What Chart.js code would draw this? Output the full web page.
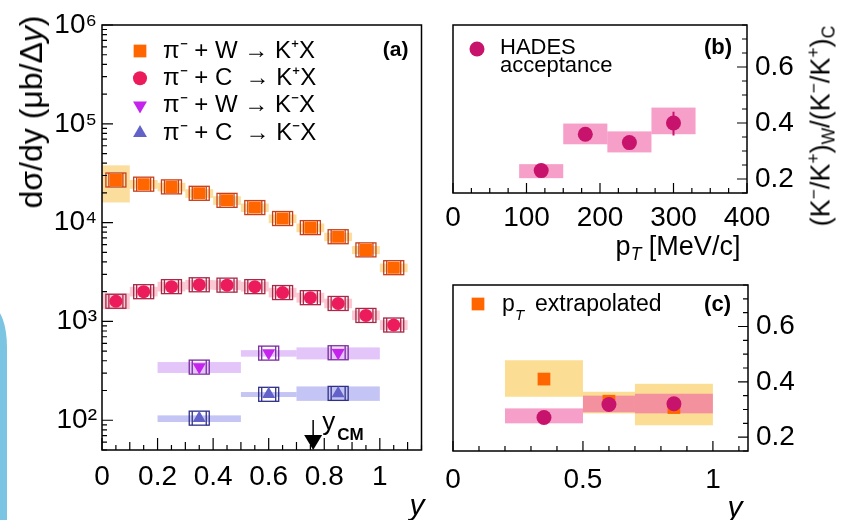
<!DOCTYPE html>
<html>
<head>
<meta charset="utf-8">
<script src="https://cdn.jsdelivr.net/npm/chart.js@4.4.1/dist/chart.umd.min.js"></script>
<style>
  body { margin: 0; background: #fff; }
  #wrap { position: relative; width: 845px; height: 520px; overflow: hidden; font-family: "Liberation Sans", Arial, sans-serif; }
  canvas { position: absolute; }
  #stripe { position: absolute; left: -8px; top: 307px; width: 15px; height: 213px; background: #7cc5e2; border-top-right-radius: 15px 40px; }
  .title { position: absolute; white-space: nowrap; color: #000; line-height: 1; transform: translate(-50%, -50%); }
  .rot { transform: translate(-50%, -50%) rotate(-90deg); }
  .title sub, .title sup { font-size: 0.65em; vertical-align: 0; position: relative; }
  .title sup { top: -0.55em; }
  .title sub { top: 0.3em; }
</style>
</head>
<body>
<div id="wrap">
  <div id="stripe"></div>
  <canvas id="chart-a" width="430" height="520" style="left:0;top:0;width:430px;height:520px"></canvas>
  <canvas id="chart-b" width="415" height="260" style="left:430px;top:0;width:415px;height:260px"></canvas>
  <canvas id="chart-c" width="415" height="260" style="left:430px;top:260px;width:415px;height:260px"></canvas>

  <div class="title rot" style="left:31px;top:112px;font-size:32px">dσ/dy (μb/Δ<i>y</i>)</div>
  <div class="title" style="left:417px;top:505px;font-size:30px"><i>y</i></div>
  <div class="title" style="left:678px;top:246px;font-size:27px">p<sub><i>T</i></sub> [MeV/c]</div>
  <div class="title rot" style="left:821px;top:126px;font-size:27px">(K<sup>−</sup>/K<sup>+</sup>)<sub>W</sub>/(K<sup>−</sup>/K<sup>+</sup>)<sub>C</sub></div>
  <div class="title" style="left:735px;top:507px;font-size:30px"><i>y</i></div>
</div>

<script>
// ---- panel (a): dσ/dy vs rapidity ----
const yBins = [0.05, 0.15, 0.25, 0.35, 0.45, 0.55, 0.65, 0.75, 0.85, 0.95, 1.05];
const binHalf = 0.05;
const kPlusW = [27000, 24500, 23000, 19800, 16800, 14200, 11000, 8900, 7200, 5300, 3500];
const kPlusWLow = [16000, 22000, 20700, 17800, 15100, 12800, 9900, 8000, 6500, 4800, 3150];
const kPlusWHigh = [38000, 27000, 25300, 21800, 18500, 15600, 12100, 9800, 7900, 5800, 3850];
const kPlusC = [1600, 2000, 2250, 2350, 2330, 2250, 1960, 1740, 1520, 1150, 920];
const kPlusCLow = [1330, 1790, 2010, 2100, 2080, 2010, 1750, 1550, 1360, 1030, 820];
const kPlusCHigh = [1930, 2240, 2520, 2630, 2610, 2520, 2190, 1950, 1700, 1290, 1030];

const kMinusBins = [0.35, 0.6, 0.85];
const kMinusBinLow = [0.2, 0.5, 0.7];
const kMinusBinHigh = [0.5, 0.7, 1.0];
const kMinusW = [345, 478, 482];
const kMinusWLow = [301, 440, 413];
const kMinusWHigh = [388, 512, 546];
const kMinusC = [105, 183, 187];
const kMinusCLow = [96, 172, 157];
const kMinusCHigh = [112, 193, 220];

const yCM = 0.76;
const rapidityTicks = [0, 0.2, 0.4, 0.6, 0.8, 1];
const rapidityTickLabels = ["0", "0.2", "0.4", "0.6", "0.8", "1"];
const sigmaTicks = [100, 1000, 10000, 100000, 1000000];
const sigmaTickLabels = ["10²", "10³", "10⁴", "10⁵", "10⁶"];

// ---- panel (b): ratio vs pT ----
const ptBins = [120, 180, 240, 300];
const ptBinLow = [90, 150, 210, 270];
const ptBinHigh = [150, 210, 270, 330];
const ratioPt = [0.23, 0.36, 0.33, 0.40];
const ratioPtSysLow = [0.203, 0.324, 0.295, 0.36];
const ratioPtSysHigh = [0.253, 0.398, 0.37, 0.455];
const ratioPtStatLow = [0.222, 0.352, 0.322, 0.355];
const ratioPtStatHigh = [0.238, 0.368, 0.338, 0.44];
const ptTicks = [0, 100, 200, 300, 400];
const ratioTicks = [0.2, 0.4, 0.6];
const ratioTickLabels = ["0.2", "0.4", "0.6"];

// ---- panel (c): ratio vs rapidity ----
const cBins = [0.35, 0.6, 0.85];
const cBinLow = [0.2, 0.5, 0.7];
const cBinHigh = [0.5, 0.7, 1.0];
const ratioHades = [0.271, 0.318, 0.321];
const ratioHadesLow = [0.25, 0.29, 0.286];
const ratioHadesHigh = [0.304, 0.35, 0.357];
const ratioExtrap = [0.41, 0.33, 0.307];
const ratioExtrapLow = [0.346, 0.286, 0.243];
const ratioExtrapHigh = [0.478, 0.364, 0.393];
const cTicks = [0, 0.5, 1];
const cTickLabels = ["0", "0.5", "1"];

const FONT = '"Liberation Sans", Arial, sans-serif';
const ORANGE = "#ff6600";
const RED = "#ec1c5c";
const VIOLET = "#c424ec";
const BLUE = "#6262c8";
const MAGENTA = "#c8136c";

const pts = (xs, ys) => xs.map((x, i) => ({ x: x, y: ys[i] }));

function drawMarker(ctx, style, x, y, r, color) {
  ctx.fillStyle = color;
  ctx.beginPath();
  if (style === "rect") {
    const s = r * Math.SQRT1_2;
    ctx.rect(x - s, y - s, 2 * s, 2 * s);
  } else if (style === "circle") {
    ctx.arc(x, y, r, 0, Math.PI * 2);
  } else if (style === "up") {
    ctx.moveTo(x, y - r); ctx.lineTo(x + 0.866 * r, y + 0.5 * r); ctx.lineTo(x - 0.866 * r, y + 0.5 * r);
  } else {
    ctx.moveTo(x, y + r); ctx.lineTo(x + 0.866 * r, y - 0.5 * r); ctx.lineTo(x - 0.866 * r, y - 0.5 * r);
  }
  ctx.closePath();
  ctx.fill();
}

//systematic bands, open boxes and error bars drawn under the markers
function bandPlugin(spec) {
  return {
    id: "bands",
    beforeDatasetsDraw(chart) {
      const { ctx, chartArea: a, scales: { x, y } } = chart;
      ctx.save();
      ctx.beginPath();
      ctx.rect(a.left, a.top, a.right - a.left, a.bottom - a.top);
      ctx.clip();
      spec.bands.forEach(b => {
        ctx.fillStyle = b.color;
        b.lo.forEach((lo, i) => {
          const x0 = x.getPixelForValue(b.x0[i]);
          const x1 = x.getPixelForValue(b.x1[i]);
          const yl = y.getPixelForValue(lo);
          const yh = y.getPixelForValue(b.hi[i]);
          ctx.fillRect(x0, yh, x1 - x0, yl - yh);
        });
      });
      (spec.boxes || []).forEach(b => {
        ctx.strokeStyle = b.color;
        ctx.lineWidth = 1.3;
        b.xs.forEach((xv, i) => {
          const px = x.getPixelForValue(xv);
          const py = y.getPixelForValue(b.ys[i]);
          ctx.strokeRect(px - 10, py - 7, 20, 14);
          ctx.beginPath();
          ctx.moveTo(px - 7, py - 7); ctx.lineTo(px - 7, py + 7);
          ctx.moveTo(px + 7, py - 7); ctx.lineTo(px + 7, py + 7);
          ctx.stroke();
        });
      });
      (spec.errs || []).forEach(e => {
        ctx.strokeStyle = e.color;
        ctx.lineWidth = 2;
        ctx.beginPath();
        e.xs.forEach((xv, i) => {
          const px = x.getPixelForValue(xv);
          ctx.moveTo(px, y.getPixelForValue(e.lo[i]));
          ctx.lineTo(px, y.getPixelForValue(e.hi[i]));
        });
        ctx.stroke();
      });
      ctx.restore();
    }
  };
}

//frame + inward ticks
function framePlugin(xTicks, yTicks, ySide) {
  return {
    id: "frame",
    afterDraw(chart) {
      const { ctx, chartArea: a, scales } = chart;
      ctx.save();
      ctx.strokeStyle = "#000";
      ctx.lineWidth = 1.5;
      ctx.strokeRect(a.left, a.top, a.right - a.left, a.bottom - a.top);
      ctx.lineWidth = 1.2;
      ctx.beginPath();
      xTicks.forEach(([v, len]) => {
        const px = scales.x.getPixelForValue(v);
        ctx.moveTo(px, a.bottom); ctx.lineTo(px, a.bottom - len);
      });
      yTicks.forEach(([v, len]) => {
        const py = scales.y.getPixelForValue(v);
        if (ySide === "right") { ctx.moveTo(a.right, py); ctx.lineTo(a.right - len, py); }
        else { ctx.moveTo(a.left, py); ctx.lineTo(a.left + len, py); }
      });
      ctx.stroke();
      ctx.restore();
    }
  };
}

function notesPlugin(draw) {
  return { id: "notes", afterDraw(chart) { chart.ctx.save(); draw(chart.ctx, chart); chart.ctx.restore(); } };
}

function ratioTickMarks() {
  const t = [];
  for (let k = 3; k <= 15; k++) t.push([k * 0.05, k % 4 === 0 ? 10 : 5]);
  return t;
}

const tickFont = { family: FONT, size: 28 };

// ================= panel (a) =================
const aXTicks = [];
for (let k = 0; k <= 23; k++) aXTicks.push([k * 0.05, k % 4 === 0 ? 12 : (k % 2 === 0 ? 8 : 5)]);
const aYTicks = [];
for (let d = 1; d <= 5; d++) {
  for (let m = 1; m <= 9; m++) {
    const v = m * Math.pow(10, d);
    if (v >= 50) aYTicks.push([v, m === 1 ? 11 : 5]);
  }
}
aYTicks.push([1000000, 11]);

new Chart(document.getElementById("chart-a"), {
  type: "scatter",
  data: {
    datasets: [
      { data: pts(yBins, kPlusW), pointStyle: "rect", pointRadius: 8.5, pointBackgroundColor: ORANGE, pointBorderWidth: 0 },
      { data: pts(yBins, kPlusC), pointStyle: "circle", pointRadius: 6.5, pointBackgroundColor: RED, pointBorderWidth: 0 },
      { data: pts(kMinusBins, kMinusW), pointStyle: "triangle", pointRotation: 180, pointRadius: 7.5, pointBackgroundColor: VIOLET, pointBorderWidth: 0 },
      { data: pts(kMinusBins, kMinusC), pointStyle: "triangle", pointRadius: 7.5, pointBackgroundColor: BLUE, pointBorderWidth: 0 }
    ]
  },
  options: {
    responsive: false,
    animation: false,
    layout: { padding: { left: 0, top: 25, right: 4, bottom: 0 } },
    plugins: { legend: { display: false }, tooltip: { enabled: false } },
    scales: {
      x: {
        type: "linear", min: 0, max: 1.15,
        afterBuildTicks: s => { s.ticks = rapidityTicks.map(v => ({ value: v })); },
        afterFit: s => { s.height = 70; },
        grid: { display: false, drawTicks: false },
        border: { display: false },
        ticks: { font: tickFont, color: "#000", padding: 10, autoSkip: false, maxRotation: 0, callback: (v, i) => rapidityTickLabels[i] }
      },
      y: {
        type: "logarithmic", min: 50, max: 1000000,
        afterBuildTicks: s => { s.ticks = sigmaTicks.map(v => ({ value: v })); },
        afterFit: s => { s.width = 102; },
        grid: { display: false, drawTicks: false },
        border: { display: false },
        ticks: { font: tickFont, color: "#000", padding: 5, autoSkip: false, callback: (v, i) => sigmaTickLabels[i] }
      }
    }
  },
  plugins: [
    bandPlugin({
      bands: [
        { color: "rgba(247,190,60,0.5)", x0: yBins.map(v => v - binHalf), x1: yBins.map(v => v + binHalf), lo: kPlusWLow, hi: kPlusWHigh },
        { color: "rgba(240,100,130,0.35)", x0: yBins.map(v => v - binHalf), x1: yBins.map(v => v + binHalf), lo: kPlusCLow, hi: kPlusCHigh },
        { color: "rgba(200,140,245,0.5)", x0: kMinusBinLow, x1: kMinusBinHigh, lo: kMinusWLow, hi: kMinusWHigh },
        { color: "rgba(140,140,235,0.5)", x0: kMinusBinLow, x1: kMinusBinHigh, lo: kMinusCLow, hi: kMinusCHigh }
      ],
      boxes: [
        { color: "#c8401a", xs: yBins, ys: kPlusW },
        { color: "#a82848", xs: yBins, ys: kPlusC },
        { color: "#7a2aa0", xs: kMinusBins, ys: kMinusW },
        { color: "#303088", xs: kMinusBins, ys: kMinusC }
      ]
    }),
    framePlugin(aXTicks, aYTicks, "left"),
    notesPlugin((ctx, chart) => {
      const a = chart.chartArea;
      const legend = [
        ["rect", ORANGE, 9, "π⁻ + W → K⁺X"],
        ["circle", RED, 7, "π⁻ + C  → K⁺X"],
        ["down", VIOLET, 8, "π⁻ + W → K⁻X"],
        ["up", BLUE, 8, "π⁻ + C  → K⁻X"]
      ];
      ctx.font = "24px " + FONT;
      ctx.textBaseline = "middle";
      ctx.textAlign = "left";
      legend.forEach((row, i) => {
        const yy = 51 + i * 27.3;
        drawMarker(ctx, row[0], 140, yy, row[2], row[1]);
        ctx.fillStyle = "#000";
        ctx.fillText(row[3], 163, yy);
      });
      ctx.font = "bold 21px " + FONT;
      ctx.textAlign = "right";
      ctx.fillText("(a)", a.right - 13, 50);

      // y_CM arrow
      const px = chart.scales.x.getPixelForValue(yCM);
      ctx.strokeStyle = "#000";
      ctx.lineWidth = 1.5;
      ctx.beginPath();
      ctx.moveTo(px, a.bottom - 30); ctx.lineTo(px, a.bottom - 12);
      ctx.stroke();
      ctx.fillStyle = "#000";
      ctx.beginPath();
      ctx.moveTo(px - 9, a.bottom - 15); ctx.lineTo(px + 9, a.bottom - 15); ctx.lineTo(px, a.bottom);
      ctx.closePath();
      ctx.fill();
      ctx.textAlign = "left";
      ctx.font = "26px " + FONT;
      ctx.fillText("y", px + 9, a.bottom - 27);
      ctx.font = "bold 17px " + FONT;
      ctx.fillText("CM", px + 24, a.bottom - 15);
    })
  ]
});

// ================= panel (b) =================
const bXTicks = [];
for (let k = 0; k <= 16; k++) bXTicks.push([k * 25, k % 4 === 0 ? 10 : 5]);

new Chart(document.getElementById("chart-b"), {
  type: "scatter",
  data: {
    datasets: [
      { data: pts(ptBins, ratioPt), pointStyle: "circle", pointRadius: 7.5, pointBackgroundColor: MAGENTA, pointBorderWidth: 0 }
    ]
  },
  options: {
    responsive: false,
    animation: false,
    layout: { padding: { left: 23, top: 25, right: 0, bottom: 0 } },
    plugins: { legend: { display: false }, tooltip: { enabled: false } },
    scales: {
      x: {
        type: "linear", min: 0, max: 400,
        afterBuildTicks: s => { s.ticks = ptTicks.map(v => ({ value: v })); },
        afterFit: s => { s.height = 67; },
        grid: { display: false, drawTicks: false },
        border: { display: false },
        ticks: { font: tickFont, color: "#000", padding: 8, autoSkip: false, maxRotation: 0 }
      },
      y: {
        type: "linear", position: "right", min: 0.15, max: 0.75,
        afterBuildTicks: s => { s.ticks = ratioTicks.map(v => ({ value: v })); },
        afterFit: s => { s.width = 98; },
        grid: { display: false, drawTicks: false },
        border: { display: false },
        ticks: { font: tickFont, color: "#000", padding: 8, autoSkip: false, callback: (v, i) => ratioTickLabels[i] }
      }
    }
  },
  plugins: [
    bandPlugin({
      bands: [
        { color: "rgba(238,95,165,0.6)", x0: ptBinLow, x1: ptBinHigh, lo: ratioPtSysLow, hi: ratioPtSysHigh }
      ],
      errs: [
        { color: MAGENTA, xs: ptBins, lo: ratioPtStatLow, hi: ratioPtStatHigh }
      ]
    }),
    framePlugin(bXTicks, ratioTickMarks(), "right"),
    notesPlugin((ctx, chart) => {
      const a = chart.chartArea;
      drawMarker(ctx, "circle", 47, 49, 7.5, MAGENTA);
      ctx.fillStyle = "#000";
      ctx.font = "22px " + FONT;
      ctx.textBaseline = "middle";
      ctx.textAlign = "left";
      ctx.fillText("HADES", 70, 48);
      ctx.fillText("acceptance", 70, 66);
      ctx.font = "bold 22px " + FONT;
      ctx.textAlign = "right";
      ctx.fillText("(b)", a.right - 15, 48);
    })
  ]
});

// ================= panel (c) =================
const cXTicks = [];
for (let k = 0; k <= 11; k++) cXTicks.push([k * 0.1, k % 5 === 0 ? 10 : 5]);

new Chart(document.getElementById("chart-c"), {
  type: "scatter",
  data: {
    datasets: [
      { data: pts(cBins, ratioHades), pointStyle: "circle", pointRadius: 7.5, pointBackgroundColor: MAGENTA, pointBorderWidth: 0 },
      { data: pts(cBins, ratioExtrap), pointStyle: "rect", pointRadius: 9, pointBackgroundColor: ORANGE, pointBorderWidth: 0 }
    ]
  },
  options: {
    responsive: false,
    animation: false,
    layout: { padding: { left: 23, top: 25, right: 0, bottom: 0 } },
    plugins: { legend: { display: false }, tooltip: { enabled: false } },
    scales: {
      x: {
        type: "linear", min: 0, max: 1.135,
        afterBuildTicks: s => { s.ticks = cTicks.map(v => ({ value: v })); },
        afterFit: s => { s.height = 69; },
        grid: { display: false, drawTicks: false },
        border: { display: false },
        ticks: { font: tickFont, color: "#000", padding: 12, autoSkip: false, maxRotation: 0, callback: (v, i) => cTickLabels[i] }
      },
      y: {
        type: "linear", position: "right", min: 0.15, max: 0.75,
        afterBuildTicks: s => { s.ticks = ratioTicks.map(v => ({ value: v })); },
        afterFit: s => { s.width = 97; },
        grid: { display: false, drawTicks: false },
        border: { display: false },
        ticks: { font: tickFont, color: "#000", padding: 8, autoSkip: false, callback: (v, i) => ratioTickLabels[i] }
      }
    }
  },
  plugins: [
    bandPlugin({
      bands: [
        { color: "rgba(247,195,60,0.55)", x0: cBinLow, x1: cBinHigh, lo: ratioExtrapLow, hi: ratioExtrapHigh },
        { color: "rgba(238,95,165,0.6)", x0: cBinLow, x1: cBinHigh, lo: ratioHadesLow, hi: ratioHadesHigh }
      ]
    }),
    framePlugin(cXTicks, ratioTickMarks(), "right"),
    notesPlugin((ctx, chart) => {
      const a = chart.chartArea;
      drawMarker(ctx, "rect", 48, 44, 9, ORANGE);
      ctx.fillStyle = "#000";
      ctx.textBaseline = "alphabetic";
      ctx.textAlign = "left";
      ctx.font = "23px " + FONT;
      ctx.fillText("p", 72, 51);
      ctx.font = "italic 15px " + FONT;
      ctx.fillText("T", 85, 60);
      ctx.font = "23px " + FONT;
      ctx.fillText("extrapolated", 105, 51);
      ctx.font = "bold 22px " + FONT;
      ctx.textAlign = "right";
      ctx.textBaseline = "middle";
      ctx.fillText("(c)", a.right - 17, 45);
    })
  ]
});
</script>
</body>
</html>
